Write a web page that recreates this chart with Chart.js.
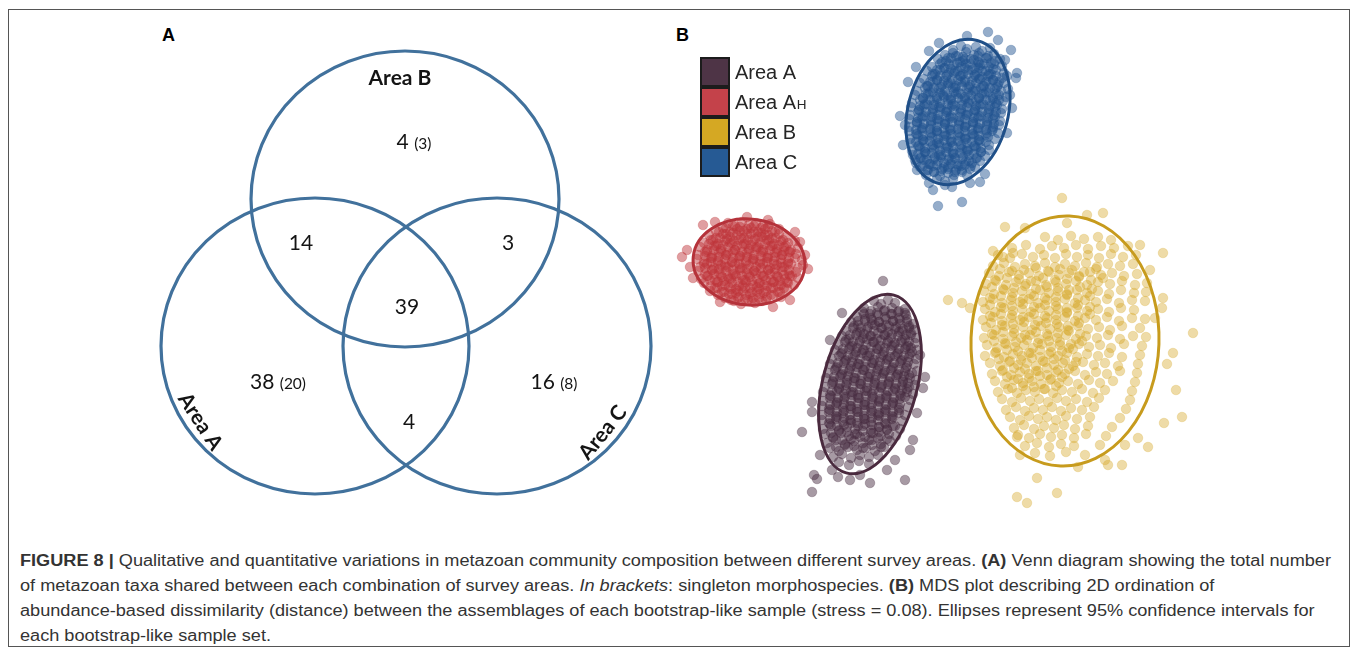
<!DOCTYPE html>
<html>
<head>
<meta charset="utf-8">
<script src="https://cdn.jsdelivr.net/npm/chart.js@4.4.1/dist/chart.umd.min.js"></script>
<style>
  html, body { margin: 0; padding: 0; background: #fff; }
  body { width: 1357px; height: 652px; position: relative; overflow: hidden; font-family: "Liberation Sans", Arial, sans-serif; }
  #frame { position: absolute; left: 8px; top: 9px; width: 1342px; height: 638px; border: 1px solid #555; box-sizing: border-box; }
  .panel { position: absolute; font: bold 18px "Liberation Sans", Arial, sans-serif; color: #000; line-height: 20px; }
  #vennCanvas { position: absolute; left: 140px; top: 20px; }
  #mdsCanvas { position: absolute; left: 660px; top: 20px; }
  #caption { position: absolute; left: 20px; top: 548px; color: #333; font-size: 16px; line-height: 25px; white-space: nowrap; transform-origin: 0 0; }
  #caption div span.line { display: inline-block; }
</style>
</head>
<body>
<div id="frame"></div>
<div class="panel" style="left:162px;top:25px;">A</div>
<div class="panel" style="left:676px;top:25px;">B</div>
<canvas id="vennCanvas" width="540" height="490"></canvas>
<canvas id="mdsCanvas" width="560" height="490"></canvas>
<div id="caption">
  <div><span class="line" id="capLine1"><b>FIGURE 8 |</b> Qualitative and quantitative variations in metazoan community composition between different survey areas. <b>(A)</b> Venn diagram showing the total number</span></div>
  <div><span class="line">of metazoan taxa shared between each combination of survey areas. <i>In brackets</i>: singleton morphospecies. <b>(B)</b> MDS plot describing 2D ordination of</span></div>
  <div><span class="line">abundance-based dissimilarity (distance) between the assemblages of each bootstrap-like sample (stress = 0.08). Ellipses represent 95% confidence intervals for</span></div>
  <div><span class="line">each bootstrap-like sample set.</span></div>
</div>
<script>
// ---------- Panel A: metazoan taxa shared between survey areas ----------
const vennSets = ['Area A', 'Area B', 'Area C'];
const vennRegions = ['A', 'B', 'C', 'A∩B', 'A∩C', 'B∩C', 'A∩B∩C'];
const taxaCounts = [38, 4, 16, 14, 4, 3, 39];
const singletonCounts = [20, 3, 8, null, null, null, null];

// ---------- Panel B: MDS scores of bootstrap-like samples ----------
const areaLabels = ['Area A', 'Area A', 'Area B', 'Area C'];
const areaLabelSuffix = ['', 'H', '', ''];

const areaA_scores = [
[-.26,-.01],[-.19,-.04],[-.12,.00],[-.05,-.03],
[-.36,-.08],[-.29,-.11],[-.22,-.07],[-.15,-.10],[-.08,-.08],[-.01,-.11],[.05,-.09],
[-.43,-.17],[-.36,-.14],[-.29,-.18],[-.22,-.15],[-.15,-.17],[-.08,-.14],[-.01,-.18],[.06,-.15],
[-.49,-.22],[-.42,-.25],[-.35,-.21],[-.28,-.24],[-.21,-.22],[-.14,-.25],[-.07,-.21],[.00,-.24],[.07,-.22],[.13,-.24],
[-.54,-.31],[-.47,-.28],[-.40,-.32],[-.33,-.29],[-.26,-.31],[-.19,-.28],[-.12,-.32],[-.05,-.29],[.02,-.31],[.09,-.28],[.14,-.30],
[-.58,-.36],[-.51,-.39],[-.44,-.35],[-.37,-.38],[-.30,-.36],[-.23,-.39],[-.16,-.35],[-.09,-.38],[-.02,-.36],[.05,-.39],[.11,-.35],[.16,-.38],
[-.62,-.45],[-.55,-.42],[-.48,-.46],[-.41,-.43],[-.34,-.45],[-.27,-.42],[-.20,-.46],[-.13,-.43],[-.06,-.45],[.01,-.42],[.08,-.46],[.15,-.43],
[-.65,-.50],[-.58,-.53],[-.51,-.49],[-.44,-.52],[-.37,-.50],[-.30,-.53],[-.23,-.49],[-.16,-.52],[-.09,-.50],[-.02,-.53],[.05,-.49],[.12,-.52],[.17,-.50],
[-.68,-.59],[-.61,-.56],[-.54,-.60],[-.47,-.57],[-.40,-.59],[-.33,-.56],[-.26,-.60],[-.19,-.57],[-.12,-.59],[-.05,-.56],[.02,-.60],[.09,-.57],[.16,-.59],
[-.70,-.64],[-.63,-.67],[-.56,-.63],[-.49,-.66],[-.42,-.64],[-.35,-.67],[-.28,-.63],[-.21,-.66],[-.14,-.64],[-.07,-.67],[.00,-.63],[.07,-.66],[.14,-.64],
[-.72,-.73],[-.65,-.70],[-.58,-.74],[-.51,-.71],[-.44,-.73],[-.37,-.70],[-.30,-.74],[-.23,-.71],[-.16,-.73],[-.09,-.70],[-.02,-.74],[.05,-.71],[.12,-.73],[.17,-.71],
[-.74,-.78],[-.67,-.81],[-.60,-.77],[-.53,-.80],[-.46,-.78],[-.39,-.81],[-.32,-.77],[-.25,-.80],[-.18,-.78],[-.11,-.81],[-.04,-.77],[.03,-.80],[.10,-.78],[.16,-.80],
[-.75,-.87],[-.68,-.84],[-.61,-.88],[-.54,-.85],[-.47,-.87],[-.40,-.84],[-.33,-.88],[-.26,-.85],[-.19,-.87],[-.12,-.84],[-.05,-.88],[.02,-.85],[.09,-.87],[.15,-.85],
[-.77,-.92],[-.70,-.95],[-.63,-.91],[-.56,-.94],[-.49,-.92],[-.42,-.95],[-.35,-.91],[-.28,-.94],[-.21,-.92],[-.14,-.95],[-.07,-.91],[.00,-.94],[.07,-.92],[.13,-.94],
[-.77,-1.01],[-.70,-.98],[-.63,-1.02],[-.56,-.99],[-.49,-1.01],[-.42,-.98],[-.35,-1.02],[-.28,-.99],[-.21,-1.01],[-.14,-.98],[-.07,-1.02],[.00,-.99],[.10,-1.00],
[-.78,-1.06],[-.71,-1.09],[-.64,-1.05],[-.57,-1.08],[-.50,-1.06],[-.43,-1.09],[-.36,-1.05],[-.29,-1.08],[-.22,-1.06],[-.15,-1.09],[-.08,-1.05],[-.01,-1.08],[.08,-1.07],
[-.78,-1.15],[-.71,-1.12],[-.64,-1.16],[-.57,-1.13],[-.50,-1.15],[-.43,-1.12],[-.36,-1.16],[-.29,-1.13],[-.22,-1.15],[-.15,-1.12],[-.08,-1.16],[-.01,-1.13],[.05,-1.15],
[-.78,-1.20],[-.71,-1.23],[-.64,-1.19],[-.57,-1.22],[-.50,-1.20],[-.43,-1.23],[-.36,-1.19],[-.29,-1.22],[-.22,-1.20],[-.15,-1.23],[-.08,-1.19],[.02,-1.21],
[-.77,-1.29],[-.69,-1.26],[-.61,-1.30],[-.53,-1.27],[-.45,-1.29],[-.37,-1.26],[-.29,-1.30],[-.21,-1.27],[-.13,-1.29],[-.05,-1.26],[.00,-1.29],
[-.75,-1.34],[-.67,-1.37],[-.59,-1.33],[-.51,-1.36],[-.43,-1.34],[-.35,-1.37],[-.27,-1.33],[-.19,-1.36],[-.11,-1.34],[-.04,-1.36],
[-.73,-1.43],[-.64,-1.40],[-.55,-1.44],[-.46,-1.41],[-.37,-1.43],[-.28,-1.40],[-.19,-1.44],[-.10,-1.41],
[-.70,-1.48],[-.61,-1.51],[-.52,-1.47],[-.43,-1.50],[-.34,-1.48],[-.25,-1.51],[-.16,-1.47],
[-.67,-1.57],[-.58,-1.54],[-.49,-1.58],[-.40,-1.55],[-.31,-1.57],[-.22,-1.55],
[-.61,-1.62],[-.51,-1.65],[-.41,-1.61],[-.31,-1.64],
[-.37,-.12],[-.30,-.14],[-.23,-.13],[-.16,-.11],[-.09,-.14],[-.02,-.12],[.05,-.13],
[-.42,-.21],[-.35,-.19],[-.28,-.20],[-.21,-.22],[-.14,-.19],[-.07,-.21],[.00,-.20],[.07,-.19],
[-.46,-.26],[-.39,-.28],[-.32,-.27],[-.25,-.25],[-.18,-.28],[-.11,-.26],[-.04,-.27],[.03,-.29],[.09,-.26],
[-.50,-.35],[-.43,-.33],[-.36,-.34],[-.29,-.36],[-.22,-.33],[-.15,-.35],[-.08,-.34],[-.01,-.32],[.06,-.35],[.11,-.33],
[-.54,-.40],[-.47,-.42],[-.40,-.41],[-.33,-.39],[-.26,-.42],[-.19,-.40],[-.12,-.41],[-.05,-.43],[.02,-.40],[.09,-.42],
[-.57,-.49],[-.50,-.47],[-.43,-.48],[-.36,-.50],[-.29,-.47],[-.22,-.49],[-.15,-.48],[-.08,-.46],[-.01,-.49],[.06,-.47],[.11,-.48],
[-.59,-.54],[-.52,-.56],[-.45,-.55],[-.38,-.53],[-.31,-.56],[-.24,-.54],[-.17,-.55],[-.10,-.57],[-.03,-.54],[.04,-.56],[.10,-.54],
[-.62,-.63],[-.55,-.61],[-.48,-.62],[-.41,-.64],[-.34,-.61],[-.27,-.63],[-.20,-.62],[-.13,-.60],[-.06,-.63],[.01,-.61],[.08,-.62],
[-.64,-.68],[-.57,-.70],[-.50,-.69],[-.43,-.67],[-.36,-.70],[-.29,-.68],[-.22,-.69],[-.15,-.71],[-.08,-.68],[-.01,-.70],[.06,-.68],
[-.66,-.77],[-.59,-.75],[-.52,-.76],[-.45,-.78],[-.38,-.75],[-.31,-.77],[-.24,-.76],[-.17,-.74],[-.10,-.77],[-.03,-.75],[.04,-.76],[.09,-.75],
[-.67,-.82],[-.60,-.84],[-.53,-.83],[-.46,-.81],[-.39,-.84],[-.32,-.82],[-.25,-.83],[-.18,-.85],[-.11,-.82],[-.04,-.84],[.03,-.82],[.08,-.83],
[-.68,-.91],[-.61,-.89],[-.54,-.90],[-.47,-.92],[-.40,-.89],[-.33,-.91],[-.26,-.90],[-.19,-.88],[-.12,-.91],[-.05,-.89],[.02,-.90],[.07,-.89],
[-.69,-.96],[-.62,-.98],[-.55,-.97],[-.48,-.95],[-.41,-.98],[-.34,-.96],[-.27,-.97],[-.20,-.99],[-.13,-.96],[-.06,-.98],[.01,-.96],[.05,-.97],
[-.70,-1.05],[-.63,-1.03],[-.56,-1.04],[-.49,-1.06],[-.42,-1.03],[-.35,-1.05],[-.28,-1.04],[-.21,-1.02],[-.14,-1.05],[-.07,-1.03],[.00,-1.04],
[-.70,-1.10],[-.63,-1.12],[-.56,-1.11],[-.49,-1.09],[-.42,-1.12],[-.35,-1.10],[-.28,-1.11],[-.21,-1.13],[-.14,-1.10],[-.07,-1.12],[-.01,-1.10],
[-.70,-1.19],[-.63,-1.17],[-.56,-1.18],[-.49,-1.20],[-.42,-1.17],[-.35,-1.19],[-.28,-1.18],[-.21,-1.16],[-.14,-1.19],[-.07,-1.17],
[-.70,-1.24],[-.63,-1.26],[-.56,-1.25],[-.49,-1.23],[-.42,-1.26],[-.35,-1.24],[-.28,-1.25],[-.21,-1.27],[-.14,-1.24],[-.07,-1.26],
[-.69,-1.33],[-.61,-1.31],[-.53,-1.32],[-.45,-1.34],[-.37,-1.31],[-.29,-1.33],[-.21,-1.32],[-.13,-1.30],
[-.67,-1.38],[-.58,-1.40],[-.49,-1.39],[-.40,-1.37],[-.31,-1.40],[-.22,-1.38],[-.13,-1.39],
[-.64,-1.47],[-.55,-1.45],[-.46,-1.46],[-.37,-1.48],[-.28,-1.45],[-.19,-1.47],
[-.17,.19],[-.58,-.13],[-.98,-1.32],[-.88,-1.02],[-.88,-1.12],[-.86,-1.75],[-.83,-1.79],[-.88,-1.92],[-.62,-1.77],[-.50,-1.80],
[-.30,-1.83],[.05,-1.80],[.25,-.77],[.23,-.88],[.17,-1.13],[.13,-1.40],[.10,-1.50],[-.68,-1.70],[-.13,-1.70],[-.40,-1.75],
[-.05,-1.60],[-.80,-1.55],[.20,-.55],[-.70,-.40]
];

const areaAH_scores = [
[-1.72,.77],[-1.65,.74],[-1.58,.78],[-1.51,.75],[-1.44,.77],[-1.37,.74],[-1.30,.76],
[-1.84,.69],[-1.77,.72],[-1.70,.68],[-1.63,.71],[-1.56,.69],[-1.49,.72],[-1.42,.68],[-1.35,.71],[-1.28,.69],[-1.21,.71],
[-1.91,.65],[-1.84,.62],[-1.77,.66],[-1.70,.63],[-1.63,.65],[-1.56,.62],[-1.49,.66],[-1.42,.63],[-1.35,.65],[-1.28,.62],[-1.21,.66],[-1.14,.63],
[-1.96,.57],[-1.89,.60],[-1.82,.56],[-1.75,.59],[-1.68,.57],[-1.61,.60],[-1.54,.56],[-1.47,.59],[-1.40,.57],[-1.33,.60],[-1.26,.56],[-1.19,.59],[-1.12,.57],[-1.05,.59],
[-2.00,.53],[-1.93,.50],[-1.86,.54],[-1.79,.51],[-1.72,.53],[-1.65,.50],[-1.58,.54],[-1.51,.51],[-1.44,.53],[-1.37,.50],[-1.30,.54],[-1.23,.51],[-1.16,.53],[-1.09,.50],[-1.02,.52],
[-2.02,.45],[-1.95,.48],[-1.88,.44],[-1.81,.47],[-1.74,.45],[-1.67,.48],[-1.60,.44],[-1.53,.47],[-1.46,.45],[-1.39,.48],[-1.32,.44],[-1.25,.47],[-1.18,.45],[-1.11,.48],[-1.04,.46],
[-2.03,.41],[-1.96,.38],[-1.89,.42],[-1.82,.39],[-1.75,.41],[-1.68,.38],[-1.61,.42],[-1.54,.39],[-1.47,.41],[-1.40,.38],[-1.33,.42],[-1.26,.39],[-1.19,.41],[-1.12,.38],[-1.05,.42],[-.98,.40],
[-2.00,.33],[-1.93,.36],[-1.86,.32],[-1.79,.35],[-1.72,.33],[-1.65,.36],[-1.58,.32],[-1.51,.35],[-1.44,.33],[-1.37,.36],[-1.30,.32],[-1.23,.35],[-1.16,.33],[-1.09,.36],[-1.02,.32],[-.97,.35],
[-2.02,.29],[-1.95,.26],[-1.88,.30],[-1.81,.27],[-1.74,.29],[-1.67,.26],[-1.60,.30],[-1.53,.27],[-1.46,.29],[-1.39,.26],[-1.32,.30],[-1.25,.27],[-1.18,.29],[-1.11,.26],[-1.04,.28],
[-1.99,.21],[-1.92,.24],[-1.85,.20],[-1.78,.23],[-1.71,.21],[-1.64,.24],[-1.57,.20],[-1.50,.23],[-1.43,.21],[-1.36,.24],[-1.29,.20],[-1.22,.23],[-1.15,.21],[-1.08,.24],[-1.02,.22],
[-1.96,.17],[-1.89,.14],[-1.82,.18],[-1.75,.15],[-1.68,.17],[-1.61,.14],[-1.54,.18],[-1.47,.15],[-1.40,.17],[-1.33,.14],[-1.26,.18],[-1.19,.15],[-1.12,.17],[-1.06,.15],
[-1.90,.09],[-1.83,.12],[-1.76,.08],[-1.69,.11],[-1.62,.09],[-1.55,.12],[-1.48,.08],[-1.41,.11],[-1.34,.09],[-1.27,.12],[-1.20,.08],[-1.13,.11],
[-1.82,.05],[-1.75,.02],[-1.68,.06],[-1.61,.03],[-1.54,.05],[-1.47,.02],[-1.40,.06],[-1.33,.03],[-1.26,.05],[-1.19,.03],
[-1.66,-.01],[-1.59,-.04],[-1.52,.00],[-1.45,-.03],[-1.38,-.01],
[-1.74,.72],[-1.67,.74],[-1.60,.73],[-1.53,.71],[-1.46,.74],[-1.39,.72],[-1.32,.73],
[-1.81,.68],[-1.74,.66],[-1.67,.67],[-1.60,.69],[-1.53,.66],[-1.46,.68],[-1.39,.67],[-1.32,.65],[-1.25,.68],
[-1.87,.60],[-1.80,.62],[-1.73,.61],[-1.66,.59],[-1.59,.62],[-1.52,.60],[-1.45,.61],[-1.38,.63],[-1.31,.60],[-1.24,.62],[-1.17,.60],
[-1.91,.56],[-1.84,.54],[-1.77,.55],[-1.70,.57],[-1.63,.54],[-1.56,.56],[-1.49,.55],[-1.42,.53],[-1.35,.56],[-1.28,.54],[-1.21,.55],[-1.14,.54],
[-1.93,.48],[-1.86,.50],[-1.79,.49],[-1.72,.47],[-1.65,.50],[-1.58,.48],[-1.51,.49],[-1.44,.51],[-1.37,.48],[-1.30,.50],[-1.23,.48],[-1.16,.49],[-1.10,.48],
[-1.95,.44],[-1.88,.42],[-1.81,.43],[-1.74,.45],[-1.67,.42],[-1.60,.44],[-1.53,.43],[-1.46,.41],[-1.39,.44],[-1.32,.42],[-1.25,.43],[-1.18,.45],[-1.11,.42],
[-1.96,.36],[-1.89,.38],[-1.82,.37],[-1.75,.35],[-1.68,.38],[-1.61,.36],[-1.54,.37],[-1.47,.39],[-1.40,.36],[-1.33,.38],[-1.26,.36],[-1.19,.37],[-1.12,.36],
[-1.95,.32],[-1.88,.30],[-1.81,.31],[-1.74,.33],[-1.67,.30],[-1.60,.32],[-1.53,.31],[-1.46,.29],[-1.39,.32],[-1.32,.30],[-1.25,.31],[-1.18,.33],[-1.11,.30],
[-1.93,.24],[-1.86,.26],[-1.79,.25],[-1.72,.23],[-1.65,.26],[-1.58,.24],[-1.51,.25],[-1.44,.27],[-1.37,.24],[-1.30,.26],[-1.23,.24],[-1.16,.25],[-1.10,.24],
[-1.90,.20],[-1.83,.18],[-1.76,.19],[-1.69,.21],[-1.62,.18],[-1.55,.20],[-1.48,.19],[-1.41,.17],[-1.34,.20],[-1.27,.18],[-1.20,.19],[-1.13,.18],
[-1.85,.12],[-1.78,.14],[-1.71,.13],[-1.64,.11],[-1.57,.14],[-1.50,.12],[-1.43,.13],[-1.36,.15],[-1.29,.12],[-1.22,.14],[-1.16,.12],
[-1.78,.08],[-1.71,.06],[-1.64,.07],[-1.57,.09],[-1.50,.06],[-1.43,.08],[-1.36,.07],[-1.29,.05],[-1.22,.08],
[-1.69,.00],[-1.62,.02],[-1.55,.01],[-1.48,-.01],[-1.41,.02],[-1.34,.00],
[-2.18,.43],[-1.97,.75],[-1.53,.83],[-1.32,.80],[-1.00,.58],[-.92,.31],[-1.27,-.07],[-2.07,.22],[-2.13,.50],[-1.85,.78],
[-1.10,.00],[-1.80,-.02],[-1.05,.68],[-2.10,.33],[-.95,.45]
];

const areaB_scores = [
[1.45,.63],[1.58,.60],[1.71,.64],[1.84,.61],[1.98,.63],[2.11,.60],
[1.12,.52],[1.26,.55],[1.40,.51],[1.52,.54],[1.64,.52],[1.76,.55],[1.88,.51],[2.01,.54],[2.14,.52],[2.28,.54],
[.98,.45],[1.10,.42],[1.22,.46],[1.33,.43],[1.44,.45],[1.55,.42],[1.66,.46],[1.77,.43],[1.88,.45],[1.99,.42],[2.11,.46],[2.23,.43],[2.36,.45],
[.93,.34],[1.04,.37],[1.15,.33],[1.25,.36],[1.35,.34],[1.45,.37],[1.55,.33],[1.65,.36],[1.75,.34],[1.86,.37],[1.97,.33],[2.08,.36],[2.20,.34],[2.33,.36],
[.89,.27],[.99,.24],[1.09,.28],[1.19,.25],[1.29,.27],[1.39,.24],[1.49,.28],[1.59,.25],[1.69,.27],[1.79,.24],[1.90,.28],[2.01,.25],[2.12,.27],[2.24,.24],[2.37,.26],
[.86,.16],[.96,.19],[1.06,.15],[1.16,.18],[1.26,.16],[1.36,.19],[1.46,.15],[1.56,.18],[1.66,.16],[1.76,.19],[1.87,.15],[1.98,.18],[2.10,.16],[2.22,.19],[2.35,.15],[2.47,.17],
[.84,.09],[.94,.06],[1.04,.10],[1.13,.07],[1.22,.09],[1.31,.06],[1.40,.10],[1.49,.07],[1.58,.09],[1.67,.06],[1.77,.10],[1.87,.07],[1.98,.09],[2.09,.06],[2.21,.10],[2.34,.07],[2.46,.08],
[.83,-.02],[.93,.01],[1.02,-.03],[1.11,.00],[1.20,-.02],[1.29,.01],[1.38,-.03],[1.47,.00],[1.56,-.02],[1.65,.01],[1.75,-.03],[1.85,.00],[1.96,-.02],[2.07,.01],[2.19,-.03],[2.32,.00],[2.45,-.01],
[.85,-.09],[.95,-.12],[1.04,-.08],[1.13,-.11],[1.22,-.09],[1.31,-.12],[1.40,-.08],[1.49,-.11],[1.58,-.09],[1.67,-.12],[1.77,-.08],[1.87,-.11],[1.98,-.09],[2.09,-.12],[2.21,-.08],[2.34,-.10],
[.83,-.20],[.93,-.17],[1.02,-.21],[1.11,-.18],[1.20,-.20],[1.29,-.17],[1.38,-.21],[1.47,-.18],[1.56,-.20],[1.65,-.17],[1.75,-.21],[1.85,-.18],[1.96,-.20],[2.07,-.17],[2.19,-.21],[2.32,-.18],[2.45,-.19],
[.86,-.27],[.96,-.30],[1.05,-.26],[1.14,-.29],[1.23,-.27],[1.32,-.30],[1.41,-.26],[1.50,-.29],[1.59,-.27],[1.68,-.30],[1.78,-.26],[1.88,-.29],[1.99,-.27],[2.10,-.30],[2.22,-.26],[2.40,-.28],
[.84,-.38],[.94,-.35],[1.03,-.39],[1.12,-.36],[1.21,-.38],[1.30,-.35],[1.39,-.39],[1.48,-.36],[1.57,-.38],[1.66,-.35],[1.76,-.39],[1.86,-.36],[1.97,-.38],[2.08,-.35],[2.20,-.39],[2.33,-.36],[2.46,-.37],
[.87,-.45],[.97,-.48],[1.06,-.44],[1.15,-.47],[1.24,-.45],[1.33,-.48],[1.42,-.44],[1.51,-.47],[1.60,-.45],[1.69,-.48],[1.79,-.44],[1.89,-.47],[2.00,-.45],[2.11,-.48],[2.24,-.44],[2.42,-.46],
[.85,-.56],[.95,-.53],[1.04,-.57],[1.13,-.54],[1.22,-.56],[1.31,-.53],[1.40,-.57],[1.49,-.54],[1.58,-.56],[1.67,-.53],[1.77,-.57],[1.87,-.54],[1.98,-.56],[2.09,-.53],[2.22,-.57],[2.40,-.55],
[.90,-.63],[1.00,-.66],[1.09,-.62],[1.18,-.65],[1.27,-.63],[1.36,-.66],[1.45,-.62],[1.54,-.65],[1.63,-.63],[1.73,-.66],[1.83,-.62],[1.94,-.65],[2.05,-.63],[2.18,-.66],[2.38,-.64],
[.92,-.74],[1.02,-.71],[1.11,-.75],[1.20,-.72],[1.29,-.74],[1.38,-.71],[1.47,-.75],[1.56,-.72],[1.65,-.74],[1.75,-.71],[1.85,-.75],[1.96,-.72],[2.07,-.74],[2.20,-.71],[2.37,-.73],
[.95,-.81],[1.05,-.84],[1.14,-.80],[1.23,-.83],[1.32,-.81],[1.41,-.84],[1.50,-.80],[1.59,-.83],[1.68,-.81],[1.78,-.84],[1.89,-.80],[2.00,-.83],[2.13,-.81],[2.35,-.82],
[.98,-.92],[1.08,-.89],[1.17,-.93],[1.26,-.90],[1.35,-.92],[1.44,-.89],[1.53,-.93],[1.62,-.90],[1.72,-.92],[1.82,-.89],[1.93,-.93],[2.05,-.90],[2.32,-.91],
[1.02,-.99],[1.12,-1.02],[1.21,-.98],[1.30,-1.01],[1.39,-.99],[1.48,-1.02],[1.57,-.98],[1.66,-1.01],[1.76,-.99],[1.87,-1.02],[1.99,-.98],[2.30,-1.00],
[1.06,-1.10],[1.16,-1.07],[1.25,-1.11],[1.34,-1.08],[1.43,-1.10],[1.52,-1.07],[1.61,-1.11],[1.71,-1.08],[1.82,-1.10],[1.94,-1.07],[2.26,-1.09],
[1.10,-1.17],[1.20,-1.20],[1.29,-1.16],[1.38,-1.19],[1.47,-1.17],[1.56,-1.20],[1.66,-1.16],[1.77,-1.19],[1.90,-1.17],[2.20,-1.18],
[1.14,-1.28],[1.24,-1.25],[1.34,-1.29],[1.44,-1.26],[1.54,-1.28],[1.64,-1.25],[1.75,-1.29],[1.88,-1.26],[2.12,-1.27],
[1.18,-1.35],[1.29,-1.38],[1.40,-1.34],[1.51,-1.37],[1.62,-1.35],[1.74,-1.38],[1.86,-1.34],[2.06,-1.36],
[1.25,-1.46],[1.37,-1.43],[1.49,-1.47],[1.61,-1.44],[1.74,-1.46],[2.00,-1.45],
[1.35,-1.53],[1.50,-1.56],[1.66,-1.52],[1.85,-1.55],
[1.00,.31],[1.12,.29],[1.24,.30],[1.36,.32],[1.48,.29],[1.60,.31],[1.72,.30],[1.84,.28],[1.96,.31],
[.95,.20],[1.07,.22],[1.19,.21],[1.31,.19],[1.43,.22],[1.55,.20],[1.67,.21],[1.79,.23],[1.91,.20],[2.03,.22],
[.92,.13],[1.03,.11],[1.14,.12],[1.25,.14],[1.36,.11],[1.47,.13],[1.58,.12],[1.69,.10],[1.80,.13],[1.92,.11],
[.90,.02],[1.01,.04],[1.12,.03],[1.23,.01],[1.34,.04],[1.45,.02],[1.56,.03],[1.67,.05],[1.78,.02],[1.90,.04],
[.90,-.05],[1.01,-.07],[1.12,-.06],[1.23,-.04],[1.34,-.07],[1.45,-.05],[1.56,-.06],[1.67,-.08],[1.78,-.05],[1.90,-.07],
[.90,-.16],[1.01,-.14],[1.12,-.15],[1.23,-.17],[1.34,-.14],[1.45,-.16],[1.56,-.15],[1.67,-.13],[1.78,-.16],[1.90,-.14],
[.91,-.23],[1.02,-.25],[1.13,-.24],[1.24,-.22],[1.35,-.25],[1.46,-.23],[1.57,-.24],[1.68,-.26],[1.79,-.23],
[.92,-.34],[1.03,-.32],[1.14,-.33],[1.25,-.35],[1.36,-.32],[1.47,-.34],[1.58,-.33],[1.69,-.31],[1.80,-.34],
[.94,-.41],[1.05,-.43],[1.16,-.42],[1.27,-.40],[1.38,-.43],[1.49,-.41],[1.60,-.42],[1.71,-.44],[1.82,-.41],
[.96,-.52],[1.07,-.50],[1.18,-.51],[1.29,-.53],[1.40,-.50],[1.51,-.52],[1.62,-.51],[1.73,-.49],
[.99,-.59],[1.10,-.61],[1.21,-.60],[1.32,-.58],[1.43,-.61],[1.54,-.59],[1.65,-.60],[1.76,-.62],
[1.03,-.70],[1.14,-.68],[1.25,-.69],[1.36,-.71],[1.47,-.68],[1.58,-.70],[1.69,-.69],
[1.07,-.77],[1.18,-.79],[1.29,-.78],[1.40,-.76],[1.51,-.79],[1.62,-.77],
[1.12,-.88],[1.23,-.86],[1.34,-.87],[1.45,-.89],[1.56,-.86],
[1.62,1.02],[1.87,.85],[2.03,.87],[1.67,.77],[.48,.00],[.62,-.03],[.70,-.08],[2.63,.47],[2.93,-.33],[2.73,-.53],
[2.67,-.64],[2.76,-.90],[2.82,-1.17],[2.64,-1.23],[2.48,-1.47],[2.38,-1.38],[2.25,-1.45],[1.37,-1.78],[1.17,-1.97],[1.27,-2.03],
[1.57,-1.93],[2.22,-1.65],[2.08,-1.65],[2.05,-1.60],[1.78,-1.67],[1.20,-1.55],[1.17,-1.37],[2.63,.02],[2.50,.30],[2.55,-.18],
[1.03,.43],[1.13,.47],[.93,.49],[1.05,.73],[1.25,.72],[2.40,.55],[2.62,-.08]
];

const areaC_scores = [
[.53,2.50],[.61,2.54],[.67,2.51],[.76,2.53],[.82,2.49],[.90,2.52],
[.45,2.45],[.53,2.47],[.58,2.44],[.66,2.48],[.74,2.45],[.79,2.47],[.88,2.44],[.94,2.46],
[.38,2.41],[.46,2.39],[.51,2.42],[.60,2.38],[.65,2.41],[.74,2.40],[.79,2.37],[.87,2.42],[.95,2.39],[1.00,2.41],
[.32,2.33],[.40,2.36],[.45,2.32],[.54,2.35],[.61,2.33],[.66,2.36],[.75,2.32],[.80,2.35],[.89,2.33],[.94,2.36],[1.02,2.34],
[.27,2.29],[.35,2.26],[.40,2.30],[.49,2.27],[.55,2.29],[.63,2.26],[.68,2.30],[.77,2.27],[.82,2.29],[.91,2.26],[.96,2.30],[1.04,2.27],
[.24,2.21],[.32,2.24],[.37,2.20],[.46,2.23],[.52,2.21],[.60,2.24],[.65,2.20],[.74,2.23],[.80,2.21],[.88,2.24],[.93,2.20],[1.02,2.22],[1.07,2.24],
[.20,2.17],[.28,2.14],[.33,2.18],[.42,2.15],[.48,2.17],[.56,2.14],[.61,2.18],[.70,2.15],[.76,2.17],[.84,2.14],[.89,2.18],[.98,2.15],[1.04,2.17],
[.17,2.09],[.25,2.12],[.30,2.08],[.39,2.11],[.45,2.09],[.53,2.12],[.58,2.08],[.67,2.11],[.73,2.09],[.81,2.12],[.86,2.08],[.95,2.11],[1.01,2.09],[1.08,2.11],
[.15,2.05],[.23,2.02],[.28,2.06],[.37,2.03],[.43,2.05],[.51,2.02],[.56,2.06],[.65,2.03],[.71,2.05],[.79,2.02],[.84,2.06],[.93,2.03],[.99,2.05],[1.06,2.03],
[.12,1.97],[.20,2.00],[.25,1.96],[.34,1.99],[.40,1.97],[.48,2.00],[.53,1.96],[.62,1.99],[.68,1.97],[.76,2.00],[.81,1.96],[.90,1.99],[.96,1.97],[1.03,1.99],
[.11,1.93],[.19,1.90],[.24,1.94],[.33,1.91],[.39,1.93],[.47,1.90],[.52,1.94],[.61,1.91],[.67,1.93],[.75,1.90],[.80,1.94],[.89,1.91],[.95,1.93],[1.02,1.91],
[.10,1.85],[.18,1.88],[.23,1.84],[.32,1.87],[.38,1.85],[.46,1.88],[.51,1.84],[.60,1.87],[.66,1.85],[.74,1.88],[.79,1.84],[.88,1.87],[.94,1.85],[1.01,1.87],
[.09,1.81],[.17,1.78],[.22,1.82],[.31,1.79],[.37,1.81],[.45,1.78],[.50,1.82],[.59,1.79],[.65,1.81],[.73,1.78],[.78,1.82],[.87,1.79],[.93,1.81],[1.00,1.79],
[.09,1.73],[.17,1.76],[.22,1.72],[.31,1.75],[.37,1.73],[.45,1.76],[.50,1.72],[.59,1.75],[.65,1.73],[.73,1.76],[.78,1.72],[.87,1.75],[.93,1.73],[.99,1.75],
[.09,1.69],[.17,1.66],[.22,1.70],[.31,1.67],[.37,1.69],[.45,1.66],[.50,1.70],[.59,1.67],[.65,1.69],[.73,1.66],[.78,1.70],[.87,1.67],[.92,1.69],[.98,1.67],
[.10,1.61],[.18,1.64],[.23,1.60],[.32,1.63],[.38,1.61],[.46,1.64],[.51,1.60],[.60,1.63],[.66,1.61],[.74,1.64],[.79,1.60],[.88,1.63],[.95,1.61],
[.11,1.57],[.19,1.54],[.24,1.58],[.33,1.55],[.39,1.57],[.47,1.54],[.52,1.58],[.61,1.55],[.67,1.57],[.75,1.54],[.80,1.58],[.89,1.55],
[.12,1.49],[.20,1.52],[.25,1.48],[.34,1.51],[.40,1.49],[.48,1.52],[.53,1.48],[.62,1.51],[.68,1.49],[.76,1.52],[.81,1.48],[.89,1.50],
[.13,1.45],[.21,1.42],[.26,1.46],[.35,1.43],[.41,1.45],[.49,1.42],[.54,1.46],[.63,1.43],[.69,1.45],[.77,1.42],[.85,1.44],
[.16,1.37],[.24,1.40],[.29,1.36],[.38,1.39],[.44,1.37],[.52,1.40],[.57,1.36],[.66,1.39],[.72,1.37],[.80,1.39],
[.20,1.33],[.28,1.30],[.33,1.34],[.42,1.31],[.48,1.33],[.56,1.30],[.61,1.34],[.70,1.31],[.75,1.33],
[.26,1.25],[.34,1.28],[.40,1.24],[.48,1.27],[.54,1.25],[.62,1.28],[.67,1.25],
[.37,1.21],[.45,1.19],[.53,1.21],
[.48,2.42],[.56,2.44],[.63,2.43],[.71,2.41],[.78,2.44],[.86,2.42],
[.42,2.38],[.49,2.36],[.57,2.37],[.63,2.39],[.70,2.36],[.78,2.38],[.84,2.36],[.91,2.37],
[.37,2.30],[.44,2.32],[.51,2.31],[.58,2.29],[.65,2.32],[.72,2.30],[.79,2.32],[.86,2.29],[.93,2.31],
[.33,2.26],[.40,2.24],[.47,2.25],[.54,2.27],[.61,2.24],[.68,2.26],[.75,2.25],[.82,2.23],[.89,2.26],[.96,2.24],
[.30,2.18],[.37,2.20],[.44,2.19],[.51,2.17],[.58,2.20],[.65,2.18],[.72,2.19],[.79,2.21],[.86,2.18],[.93,2.20],[.99,2.18],
[.27,2.14],[.34,2.12],[.41,2.13],[.48,2.15],[.55,2.12],[.62,2.14],[.69,2.13],[.76,2.11],[.83,2.14],[.90,2.12],[.97,2.13],
[.26,2.06],[.33,2.08],[.40,2.07],[.47,2.05],[.54,2.08],[.61,2.06],[.68,2.07],[.75,2.09],[.82,2.06],[.89,2.08],[.96,2.06],
[.23,2.02],[.30,2.00],[.37,2.01],[.44,2.03],[.51,2.00],[.58,2.02],[.65,2.01],[.72,1.99],[.79,2.02],[.86,2.00],[.93,2.01],[.99,2.00],
[.20,1.94],[.27,1.96],[.34,1.95],[.41,1.93],[.48,1.96],[.55,1.94],[.62,1.95],[.69,1.97],[.76,1.94],[.83,1.96],[.90,1.94],[.97,1.95],
[.19,1.90],[.26,1.88],[.33,1.89],[.40,1.91],[.47,1.88],[.54,1.90],[.61,1.89],[.68,1.87],[.75,1.90],[.82,1.88],[.89,1.89],[.96,1.88],
[.18,1.82],[.25,1.84],[.32,1.83],[.39,1.81],[.46,1.84],[.53,1.82],[.60,1.83],[.67,1.85],[.74,1.82],[.81,1.84],[.88,1.82],[.95,1.83],
[.17,1.78],[.24,1.76],[.31,1.77],[.38,1.79],[.45,1.76],[.52,1.78],[.59,1.77],[.66,1.75],[.73,1.78],[.80,1.76],[.87,1.77],[.94,1.76],
[.16,1.70],[.23,1.72],[.30,1.71],[.37,1.69],[.44,1.72],[.51,1.70],[.58,1.71],[.65,1.73],[.72,1.70],[.79,1.72],[.86,1.70],[.93,1.71],
[.16,1.66],[.23,1.64],[.30,1.65],[.37,1.67],[.44,1.64],[.51,1.66],[.58,1.65],[.65,1.63],[.72,1.66],[.79,1.64],[.86,1.65],
[.16,1.58],[.23,1.60],[.30,1.59],[.37,1.57],[.44,1.60],[.51,1.58],[.58,1.59],[.65,1.61],[.72,1.58],[.79,1.60],[.86,1.58],
[.18,1.54],[.25,1.52],[.32,1.53],[.39,1.55],[.46,1.52],[.53,1.54],[.60,1.53],[.67,1.51],[.74,1.54],[.81,1.52],
[.18,1.46],[.25,1.48],[.32,1.47],[.39,1.45],[.46,1.48],[.53,1.46],[.60,1.47],[.67,1.49],[.74,1.46],[.81,1.48],
[.20,1.42],[.27,1.40],[.34,1.41],[.41,1.43],[.48,1.40],[.55,1.42],[.62,1.41],[.69,1.39],[.76,1.42],
[.23,1.34],[.30,1.36],[.37,1.35],[.44,1.33],[.51,1.36],[.58,1.34],[.65,1.35],[.71,1.34],
[.27,1.30],[.34,1.28],[.41,1.29],[.48,1.31],[.55,1.28],[.62,1.30],
[.88,2.68],[.67,2.64],[.98,2.60],[1.11,2.50],[.39,2.57],[.29,2.49],[.16,2.33],[.08,2.18],[1.17,2.27],[1.16,2.22],
[1.12,1.92],[.00,1.84],[.03,1.55],[.80,1.18],[.33,1.10],[.38,.94],[.62,.98],[.52,1.13],[.17,1.30],[.29,1.17],
[1.07,1.67],[1.05,2.40],[.05,1.75],[1.10,2.05],[.15,1.40],[.45,1.15],[.70,1.17],[.85,1.26]
];

// 95% confidence ellipses: centre, semi-axes (major, minor), major-axis angle in degrees
const ellipseCentres = [[-0.30, -0.84], [-1.51, 0.38], [1.65, -0.41], [0.58, 1.88]];
const ellipseAxes = [[0.92, 0.47], [0.56, 0.43], [1.25, 0.94], [0.74, 0.50]];
const ellipseAngles = [75, -5, 88, 75];

// ---------- styling ----------
const areaRGB = ['72,44,64', '190,52,58', '212,164,34', '34,84,144'];
const pointAlpha = [0.48, 0.48, 0.40, 0.48];
const ellipseColors = ['#4a2a3e', '#b5323a', '#c79b1d', '#1f4f88'];
const swatchColors = ['#4e3446', '#c4424a', '#d5a823', '#265a94'];

const vennLayout = {
  circles: [[17.5, 32.6], [26.5, 17.9], [35.7, 32.6]],
  radius: [15.4, 14.8],
  regionAt: [[13.8, 36.1], [27.4, 12.15], [41.4, 36.1], [16.1, 22.2], [26.9, 40.1], [36.8, 22.2], [26.7, 28.6]],
  setLabelAt: [[6.1, 40.1, 57], [26.0, 5.75, 0], [46.2, 41.2, -51]]
};

// ---------- Venn chart ----------
const vennPlugin = {
  id: 'vennDiagram',
  afterDatasetsDraw(chart) {
    const { ctx, scales: { x, y } } = chart;
    const kx = Math.abs(x.getPixelForValue(1) - x.getPixelForValue(0));
    const ky = Math.abs(y.getPixelForValue(1) - y.getPixelForValue(0));
    ctx.save();
    ctx.strokeStyle = '#41719c';
    ctx.lineWidth = 3.2;
    vennLayout.circles.forEach(c => {
      ctx.beginPath();
      ctx.ellipse(x.getPixelForValue(c[0]), y.getPixelForValue(c[1]),
        vennLayout.radius[0] * kx, vennLayout.radius[1] * ky, 0, 0, Math.PI * 2);
      ctx.stroke();
    });

    // region counts, with singleton counts in brackets
    const meta = chart.getDatasetMeta(0);
    ctx.fillStyle = '#141414';
    ctx.textBaseline = 'alphabetic';
    meta.data.forEach((pt, i) => {
      const main = String(taxaCounts[i]);
      const extra = singletonCounts[i] != null ? '(' + singletonCounts[i] + ')' : '';
      ctx.font = '21px Lato, "Open Sans", sans-serif';
      const wMain = ctx.measureText(main + (extra ? ' ' : '')).width;
      ctx.font = '15.5px Lato, "Open Sans", sans-serif';
      const wExtra = extra ? ctx.measureText(extra).width : 0;
      const left = pt.x - (wMain + wExtra) / 2;
      const base = pt.y + 7.5;
      ctx.textAlign = 'left';
      ctx.font = '21px Lato, "Open Sans", sans-serif';
      ctx.fillText(main, left, base);
      if (extra) {
        ctx.font = '15.5px Lato, "Open Sans", sans-serif';
        ctx.fillText(extra, left + wMain, base);
      }
    });

    // set names
    ctx.font = 'bold 21px Lato, "Open Sans", sans-serif';
    ctx.textAlign = 'center';
    ctx.textBaseline = 'middle';
    vennSets.forEach((name, i) => {
      const p = vennLayout.setLabelAt[i];
      ctx.save();
      ctx.translate(x.getPixelForValue(p[0]), y.getPixelForValue(p[1]));
      ctx.rotate(p[2] * Math.PI / 180);
      ctx.fillText(name, 0, 1);
      ctx.restore();
    });
    ctx.restore();
  }
};

const vennChart = new Chart(document.getElementById('vennCanvas'), {
  type: 'scatter',
  data: {
    datasets: [{
      label: 'Taxa per region',
      data: vennRegions.map((r, i) => ({ x: vennLayout.regionAt[i][0], y: vennLayout.regionAt[i][1] })),
      pointRadius: 0
    }]
  },
  options: {
    responsive: false,
    animation: false,
    events: [],
    layout: { padding: 0, autoPadding: false },
    plugins: { legend: { display: false }, tooltip: { enabled: false } },
    scales: {
      x: { type: 'linear', min: 0, max: 54, display: false },
      y: { type: 'linear', min: 0, max: 49, reverse: true, display: false }
    }
  },
  plugins: [vennPlugin]
});

// ---------- MDS chart ----------
const ellipsePlugin = {
  id: 'confidenceEllipses',
  afterDatasetsDraw(chart) {
    const { ctx, scales: { x, y } } = chart;
    const kx = Math.abs(x.getPixelForValue(1) - x.getPixelForValue(0));
    const ky = Math.abs(y.getPixelForValue(1) - y.getPixelForValue(0));
    ctx.save();
    ctx.lineWidth = 3;
    ellipseCentres.forEach((c, i) => {
      ctx.strokeStyle = ellipseColors[i];
      ctx.beginPath();
      ctx.ellipse(x.getPixelForValue(c[0]), y.getPixelForValue(c[1]),
        ellipseAxes[i][0] * kx, ellipseAxes[i][1] * ky,
        -ellipseAngles[i] * Math.PI / 180, 0, Math.PI * 2);
      ctx.stroke();
    });
    ctx.restore();
  }
};

const boxLegend = {
  id: 'boxLegend',
  afterDraw(chart) {
    const ctx = chart.ctx;
    const left = 41, top = 38;
    const size = 28, pitch = 30;
    ctx.save();
    chart.data.datasets.forEach((ds, i) => {
      const y0 = top + i * pitch;
      ctx.fillStyle = swatchColors[i];
      ctx.fillRect(left, y0, size, size);
      ctx.strokeStyle = '#1c1c1c';
      ctx.lineWidth = 2;
      ctx.strokeRect(left, y0, size, size);
      const base = y0 + size / 2 + 7;
      ctx.fillStyle = '#262626';
      ctx.textAlign = 'left';
      ctx.textBaseline = 'alphabetic';
      ctx.font = '20px "Liberation Sans", Arial, sans-serif';
      const name = areaLabels[i];
      ctx.fillText(name, left + 34, base);
      if (areaLabelSuffix[i]) {
        const w = ctx.measureText(name).width;
        ctx.font = '13.5px "Liberation Sans", Arial, sans-serif';
        ctx.fillText(areaLabelSuffix[i], left + 34 + w + 0.5, base);
      }
    });
    ctx.restore();
  }
};

const areaScores = [areaA_scores, areaAH_scores, areaB_scores, areaC_scores];
const mdsChart = new Chart(document.getElementById('mdsCanvas'), {
  type: 'scatter',
  data: {
    datasets: areaScores.map((pts, i) => ({
      label: areaLabels[i] + areaLabelSuffix[i],
      data: pts.map(p => ({ x: p[0], y: p[1] })),
      backgroundColor: 'rgba(' + areaRGB[i] + ',' + pointAlpha[i] + ')',
      borderColor: 'rgba(' + areaRGB[i] + ',' + pointAlpha[i] + ')',
      borderWidth: 0.6,
      pointRadius: 4.8,
      clip: false
    }))
  },
  options: {
    responsive: false,
    animation: false,
    events: [],
    layout: { padding: 0, autoPadding: false },
    plugins: { legend: { display: false }, tooltip: { enabled: false } },
    scales: {
      x: { type: 'linear', min: -2.4, max: 3.2, display: false },
      y: { type: 'linear', min: -2.1, max: 2.8, display: false }
    }
  },
  plugins: [ellipsePlugin, boxLegend]
});

// ---------- caption width ----------
function fitCaption() {
  const cap = document.getElementById('caption');
  cap.style.transform = 'none';
  const w = document.getElementById('capLine1').getBoundingClientRect().width;
  if (w > 0) cap.style.transform = 'scaleX(' + (1311 / w) + ')';
}
fitCaption();
if (document.fonts && document.fonts.ready) {
  document.fonts.ready.then(() => { fitCaption(); vennChart.update(); mdsChart.update(); });
}
</script>
</body>
</html>
